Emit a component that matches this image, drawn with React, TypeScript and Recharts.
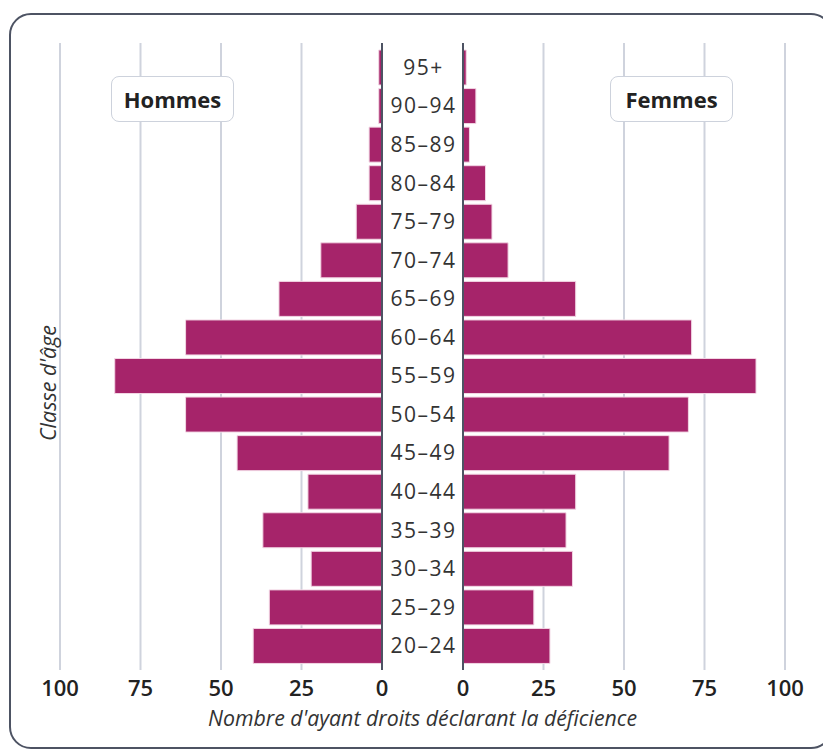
import { Bar, BarChart, CartesianGrid, ReferenceLine, XAxis, YAxis } from "recharts"

const ages = ["95+", "90–94", "85–89", "80–84", "75–79", "70–74", "65–69", "60–64", "55–59", "50–54", "45–49", "40–44", "35–39", "30–34", "25–29", "20–24"]
const hommes = [1, 1, 4, 4, 8, 19, 32, 61, 83, 61, 45, 23, 37, 22, 35, 40]
const femmes = [1, 4, 2, 7, 9, 14, 35, 71, 91, 70, 64, 35, 32, 34, 22, 27]
const xTicks = [0, 25, 50, 75, 100]

const data = ages.map((age, i) => ({ age, hommes: hommes[i], femmes: femmes[i] }))

const FONT = "'Open Sans', 'Noto Sans', sans-serif"
const BAR = "#a6246a"
const GRID = "#cfd3dd"
const AXIS = "#4d5363"

const tickStyle = { fill: "#222", fontSize: 22, fontWeight: 600, fontFamily: FONT }

function AgeTick(props: any) {
  const { y, payload } = props
  return (
    <text x={41.5} y={y} dy="0.36em" textAnchor="middle" fill="#333" fontSize={21} fontFamily={FONT} letterSpacing={1.5}>
      {payload.value}
    </text>
  )
}

function LegendBox({ label, left }: { label: string; left: number }) {
  return (
    <div
      style={{
        position: "absolute",
        left,
        top: 76,
        width: 121,
        height: 44,
        border: "1.5px solid #cdd2dc",
        borderRadius: 8,
        background: "#fff",
        display: "flex",
        alignItems: "center",
        justifyContent: "center",
        fontFamily: FONT,
        fontWeight: 700,
        fontSize: 22,
        color: "#222",
      }}
    >
      {label}
    </div>
  )
}

export default function App() {
  return (
    <div style={{ position: "absolute", left: 0, top: 0, width: 823, height: 749, background: "#fff", overflow: "hidden" }}>
      <div
        style={{
          position: "absolute",
          left: 9,
          top: 13,
          width: 820,
          height: 732,
          border: `2px solid ${AXIS}`,
          borderRadius: 22,
        }}
      />

      <div style={{ position: "absolute", left: 0, top: 0 }}>
        <BarChart
          width={400}
          height={749}
          data={data}
          layout="vertical"
          margin={{ top: 43, right: 18, bottom: 49, left: 60 }}
        >
          <CartesianGrid horizontal={false} stroke={GRID} strokeWidth={2} />
          <XAxis
            type="number"
            domain={[0, 100]}
            ticks={xTicks}
            reversed
            axisLine={false}
            tickLine={false}
            tickMargin={4}
            height={30}
            tick={tickStyle}
            interval={0}
          />
          <YAxis type="category" dataKey="age" hide padding={{ top: 5, bottom: 5 }} />
          <ReferenceLine x={0} stroke={AXIS} strokeWidth={2} />
          <Bar dataKey="hommes" fill={BAR} stroke="#f2d6e4" strokeWidth={1} barSize={35} isAnimationActive={false} />
        </BarChart>
      </div>

      <div style={{ position: "absolute", left: 382, top: 0 }}>
        <BarChart
          width={441}
          height={749}
          data={data}
          layout="vertical"
          margin={{ top: 43, right: 38, bottom: 49, left: 0 }}
        >
          <CartesianGrid horizontal={false} stroke={GRID} strokeWidth={2} />
          <XAxis
            type="number"
            domain={[0, 100]}
            ticks={xTicks}
            axisLine={false}
            tickLine={false}
            tickMargin={4}
            height={30}
            tick={tickStyle}
            interval={0}
          />
          <YAxis
            type="category"
            dataKey="age"
            width={81}
            axisLine={false}
            tickLine={false}
            tick={<AgeTick />}
            interval={0}
            padding={{ top: 5, bottom: 5 }}
          />
          <ReferenceLine x={0} stroke={AXIS} strokeWidth={2} />
          <Bar dataKey="femmes" fill={BAR} stroke="#f2d6e4" strokeWidth={1} barSize={35} isAnimationActive={false} />
        </BarChart>
      </div>

      <LegendBox label="Hommes" left={111} />
      <LegendBox label="Femmes" left={610} />

      <div
        style={{
          position: "absolute",
          left: 0,
          width: 845,
          top: 703,
          textAlign: "center",
          fontFamily: FONT,
          fontStyle: "italic",
          fontSize: 21.3,
          color: "#333",
        }}
      >
        Nombre d'ayant droits déclarant la déficience
      </div>

      <div
        style={{
          position: "absolute",
          left: 47,
          top: 383,
          transform: "translate(-50%, -50%) rotate(-90deg)",
          whiteSpace: "nowrap",
          fontFamily: FONT,
          fontStyle: "italic",
          fontSize: 21.5,
          color: "#333",
        }}
      >
        Classe d'âge
      </div>
    </div>
  )
}
